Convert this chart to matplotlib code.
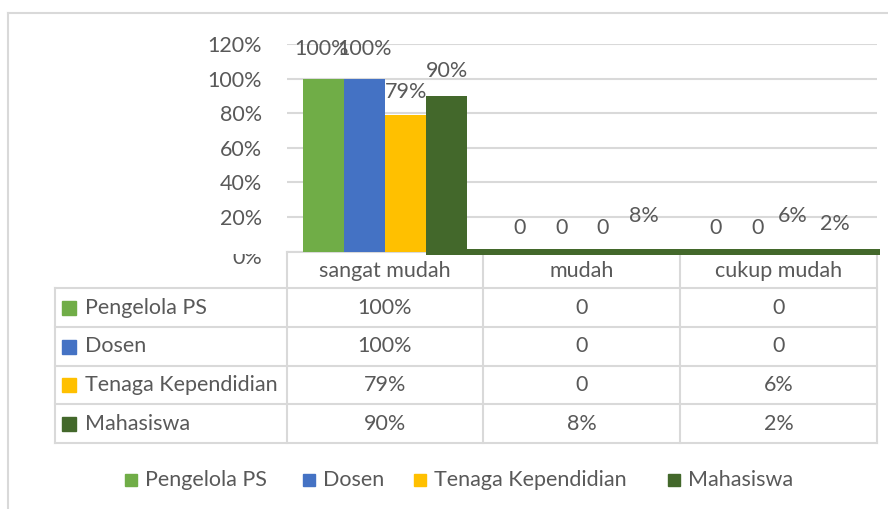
import matplotlib
matplotlib.use("Agg")
import matplotlib.pyplot as plt
from matplotlib.patches import Rectangle
from matplotlib.transforms import Bbox
import matplotlib.transforms as mtransforms
import numpy as np

# ---------------- data ----------------
categories = ['sangat mudah', 'mudah', 'cukup mudah']
series_names = ['Pengelola PS', 'Dosen', 'Tenaga Kependidian', 'Mahasiswa']
# plotted bar heights (text-formatted cells plot as 0 in the source chart)
pengelola_vals = [1.00, 0.0, 0.0]
dosen_vals = [1.00, 0.0, 0.0]
tenaga_vals = [0.79, 0.0, 0.0]
mahasiswa_vals = [0.90, 0.0, 0.0]
# labels shown in data labels and data table
pengelola_lbl = ['100%', '0', '0']
dosen_lbl = ['100%', '0', '0']
tenaga_lbl = ['79%', '0', '6%']
mahasiswa_lbl = ['90%', '8%', '2%']
ytick_vals = [0, 0.2, 0.4, 0.6, 0.8, 1.0, 1.2]
ytick_lbls = ['0%', '20%', '40%', '60%', '80%', '100%', '120%']

values = [pengelola_vals, dosen_vals, tenaga_vals, mahasiswa_vals]
labels = [pengelola_lbl, dosen_lbl, tenaga_lbl, mahasiswa_lbl]
colors = ['#70AD47', '#4472C4', '#FFC000', '#43682B']

# style: label offsets in pixels (dx, dy above bar top)
label_dy = [[30, 23, 23], [30, 23, 23], [23, 23, 35], [25, 36, 27]]
label_dx = [[-2, -1, -2], [0, 0, -1], [0, 0, -6], [0, 0, -5]]

TXT = '#595959'
GRID = '#D9D9D9'
plt.rcParams['font.family'] = ['Lato', 'DejaVu Sans']
FS = 15.5

W, H = 888, 509
DPI = 100
fig = plt.figure(figsize=(W / DPI, H / DPI), dpi=DPI)

# overlay for table, legend, border (drawn below main axes)
ov = fig.add_axes([0, 0, 1, 1], zorder=1)
ov.set_xlim(0, W)
ov.set_ylim(H, 0)
ov.axis('off')
ov.patch.set_alpha(0)

# main axes placement in pixels
ax_l, ax_r = 287, 877
y0_px, ytop_px = 251.5, 44
ax = fig.add_axes([ax_l / W, (H - y0_px) / H, (ax_r - ax_l) / W, (y0_px - ytop_px) / H], zorder=2)
ax.patch.set_alpha(0)
ax.set_xlim(-0.5, 2.5)
ax.set_ylim(0, 1.2)
for s in ax.spines.values():
    s.set_visible(False)
ax.set_yticks(ytick_vals)
ax.set_yticklabels(ytick_lbls, fontsize=FS, color=TXT)
ax.tick_params(axis='y', length=0, pad=18)
ax.set_xticks([])
ax.yaxis.grid(True, color=GRID, linewidth=1.5)
ax.set_axisbelow(True)
# shift the 0% label down slightly and clip its top (as in the source)
zero_lbl = ax.get_yticklabels()[0]
zero_lbl.set_transform(zero_lbl.get_transform() + mtransforms.ScaledTranslation(0, -5 / DPI, fig.dpi_scale_trans))
zero_lbl.set_clip_on(True)
zero_lbl.set_clip_box(Bbox([[0, 0], [W, H - 253.5]]))

px_per_unit = (ax_r - ax_l) / 3.0
bw = 41 / px_per_unit
x = np.arange(len(categories))
for k, (vals, lbls, c) in enumerate(zip(values, labels, colors)):
    xs = x + (k - 1.5) * bw
    ax.bar(xs, vals, width=bw, color=c, zorder=3)
    for j, (xx, v, t) in enumerate(zip(xs, vals, lbls)):
        ax.annotate(t, (xx, v), xytext=(label_dx[k][j] * 72 / DPI, label_dy[k][j] * 72 / DPI),
                    textcoords='offset points', ha='center', va='center',
                    fontsize=FS, color=TXT, zorder=5, annotation_clip=False)

# dark band artifact attached to Mahasiswa bar bottom
band_left = x[0] + 1.5 * bw - bw / 2
ax.add_patch(Rectangle((band_left, -0.02), 2.515 - band_left, 0.035,
                       color=colors[3], clip_on=False, zorder=4, linewidth=0))

# outer border
ov.plot([8, W], [13, 13], color=GRID, lw=1.5)
ov.plot([8, 8], [13, H], color=GRID, lw=1.5)

col_edges = [55, 287, 483, 680, 877]
row_edges = [252, 288, 327, 366, 404, 443]
lw = 1.5
ov.plot([col_edges[1], col_edges[-1]], [row_edges[0], row_edges[0]], color=GRID, lw=lw, zorder=0)
for ry in row_edges[1:]:
    ov.plot([col_edges[0], col_edges[-1]], [ry, ry], color=GRID, lw=lw)
for cx in col_edges[1:]:
    ov.plot([cx, cx], [row_edges[0], row_edges[-1]], color=GRID, lw=lw)
ov.plot([col_edges[0], col_edges[0]], [row_edges[1], row_edges[-1]], color=GRID, lw=lw)

hdr_y = (row_edges[0] + row_edges[1]) / 2 + 1
for j, cat in enumerate(categories):
    cx = (col_edges[j + 1] + col_edges[j + 2]) / 2
    ov.text(cx, hdr_y, cat, ha='center', va='center', fontsize=FS, color=TXT)
for k, (name, lbls, c) in enumerate(zip(series_names, labels, colors)):
    cy = (row_edges[k + 1] + row_edges[k + 2]) / 2
    ov.add_patch(Rectangle((62, cy - 7), 14, 14, color=c))
    ov.text(85, cy, name, ha='left', va='center', fontsize=FS, color=TXT)
    for j, t in enumerate(lbls):
        cx = (col_edges[j + 1] + col_edges[j + 2]) / 2
        ov.text(cx, cy, t, ha='center', va='center', fontsize=FS, color=TXT)

# legend
leg_sq_x = [125, 303, 414, 668]
leg_y = 480
for name, c, sx in zip(series_names, colors, leg_sq_x):
    ov.add_patch(Rectangle((sx, leg_y - 6), 12, 12, color=c))
    ov.text(sx + 20, leg_y, name, ha='left', va='center', fontsize=FS, color=TXT)

fig.savefig('out.png', dpi=DPI)
